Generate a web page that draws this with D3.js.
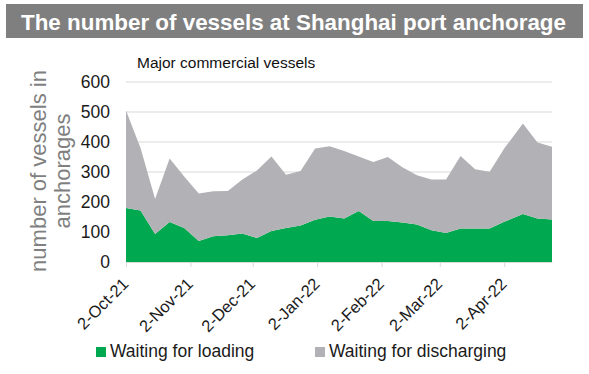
<!DOCTYPE html>
<html>
<head>
<meta charset="utf-8">
<title>Vessels at Shanghai port anchorage</title>
<script src="https://d3js.org/d3.v7.min.js"></script>
<style>
  body { margin: 0; background: #fff; }
  svg { font-family: "Liberation Sans", Arial, sans-serif; }
</style>
</head>
<body>
<div id="chart"></div>
<script>

// weekly observation dates
var dates = ["2021-10-02","2021-10-09","2021-10-16","2021-10-23","2021-10-30",
  "2021-11-06","2021-11-13","2021-11-20","2021-11-27","2021-12-04",
  "2021-12-11","2021-12-18","2021-12-25","2022-01-01","2022-01-08",
  "2022-01-15","2022-01-22","2022-01-29","2022-02-05","2022-02-12",
  "2022-02-19","2022-02-26","2022-03-05","2022-03-12","2022-03-19",
  "2022-03-26","2022-04-02","2022-04-11","2022-04-18","2022-04-25"];

// vessels waiting for loading (green, bottom of the stack)
var loading = [180,172,93,133,113,70,86,89,95,80,
  103,113,122,141,152,145,170,137,137,132,
  125,106,97,112,112,112,134,160,145,142];

// vessels waiting for discharging (grey, stacked on top)
var discharging = [325,208,117,212,172,158,150,148,180,225,
  249,178,181,237,234,225,182,196,213,184,
  164,169,178,241,197,189,244,302,253,242];

var xTicks = ["2021-10-02","2021-11-02","2021-12-02","2022-01-02","2022-02-02","2022-03-02","2022-04-02"];
var yTicks = [0, 100, 200, 300, 400, 500, 600];
var seriesNames = ["Waiting for loading", "Waiting for discharging"];
var colors = ["#00a84f", "#b2b2b6"];

var W = 589, H = 374;
var plot = {left: 126, right: 552, top: 82, bottom: 262};

var parse = d3.timeParse("%Y-%m-%d");
var table = dates.map(function(d, i) {
  return {date: parse(d), loading: loading[i], discharging: discharging[i]};
});

var svg = d3.select("#chart").append("svg")
  .attr("width", W)
  .attr("height", H);

// ---- title bar ----
svg.append("rect")
  .attr("x", 6).attr("y", 4)
  .attr("width", 577).attr("height", 34)
  .attr("fill", "#7f7f7f");
svg.append("text")
  .attr("x", 21).attr("y", 30)
  .attr("fill", "#fff")
  .style("font-size", "22.4px")
  .style("font-weight", "bold")
  .text("The number of vessels at Shanghai port anchorage");

// subtitle
svg.append("text")
  .attr("x", 137).attr("y", 68)
  .attr("fill", "#111")
  .style("font-size", "15.5px")
  .text("Major commercial vessels");

// ---- scales ----
var x = d3.scaleTime()
  .domain(d3.extent(table, function(d) { return d.date; }))
  .range([plot.left, plot.right]);

var y = d3.scaleLinear()
  .domain([0, 600])
  .range([plot.bottom, plot.top]);

// grid lines
svg.append("g")
  .selectAll("line")
  .data(yTicks.filter(function(v) { return v > 0; }))
  .enter().append("line")
    .attr("x1", plot.left).attr("x2", plot.right)
    .attr("y1", function(d) { return y(d); })
    .attr("y2", function(d) { return y(d); })
    .attr("stroke", "#d9d9d9")
    .attr("stroke-width", 1.2);

// ---- stacked areas ----
var stack = d3.stack().keys(["loading", "discharging"]);
var layers = stack(table);

var area = d3.area()
  .x(function(d) { return x(d.data.date); })
  .y0(function(d) { return y(d[0]); })
  .y1(function(d) { return y(d[1]); });

svg.append("g")
  .selectAll("path")
  .data(layers)
  .enter().append("path")
    .attr("d", area)
    .attr("fill", function(d, i) { return colors[i]; });

// ---- y axis labels ----
var yAxis = svg.append("g")
  .attr("transform", "translate(" + plot.left + ",0)")
  .call(d3.axisLeft(y).tickValues(yTicks).tickSize(0).tickPadding(16));
yAxis.select(".domain").remove();
yAxis.selectAll("text")
  .attr("fill", "#1a1a1a")
  .style("font-size", "17.5px")
  .style("font-family", "Liberation Sans, Arial, sans-serif");

// ---- x axis ----
var xAxis = svg.append("g")
  .attr("transform", "translate(0," + plot.bottom + ")")
  .call(d3.axisBottom(x)
    .tickValues(xTicks.map(parse))
    .tickFormat(d3.timeFormat("%-d-%b-%y"))
    .tickSize(5)
    .tickSizeOuter(0));
xAxis.select(".domain").attr("stroke", "#d9d9d9").attr("stroke-width", 1.2);
xAxis.selectAll(".tick line").attr("stroke", "#d9d9d9");
xAxis.selectAll("text")
  .attr("fill", "#1a1a1a")
  .style("font-size", "16.5px")
  .style("font-family", "Liberation Sans, Arial, sans-serif")
  .attr("text-anchor", "end")
  .attr("dy", 0)
  .attr("y", 0)
  .attr("transform", "translate(3,23) rotate(-45)");

// ---- y axis title ----
var yTitle = svg.append("text")
  .attr("transform", "translate(46,171) rotate(-90)")
  .attr("text-anchor", "middle")
  .attr("fill", "#7f7f7f")
  .style("font-size", "22px");
yTitle.append("tspan").attr("x", 0).attr("y", 0).text("number of vessels in");
yTitle.append("tspan").attr("x", 0).attr("y", 24).text("anchorages");

// ---- legend ----
var legendX = [96, 315];
var legend = svg.append("g")
  .selectAll("g")
  .data(seriesNames)
  .enter().append("g")
    .attr("transform", function(d, i) { return "translate(" + legendX[i] + ",347)"; });
legend.append("rect")
  .attr("width", 10).attr("height", 10)
  .attr("fill", function(d, i) { return colors[i]; });
legend.append("text")
  .attr("x", 14).attr("y", 10)
  .attr("fill", "#1a1a1a")
  .style("font-size", "17.5px")
  .text(function(d) { return d; });

</script>
</body>
</html>
